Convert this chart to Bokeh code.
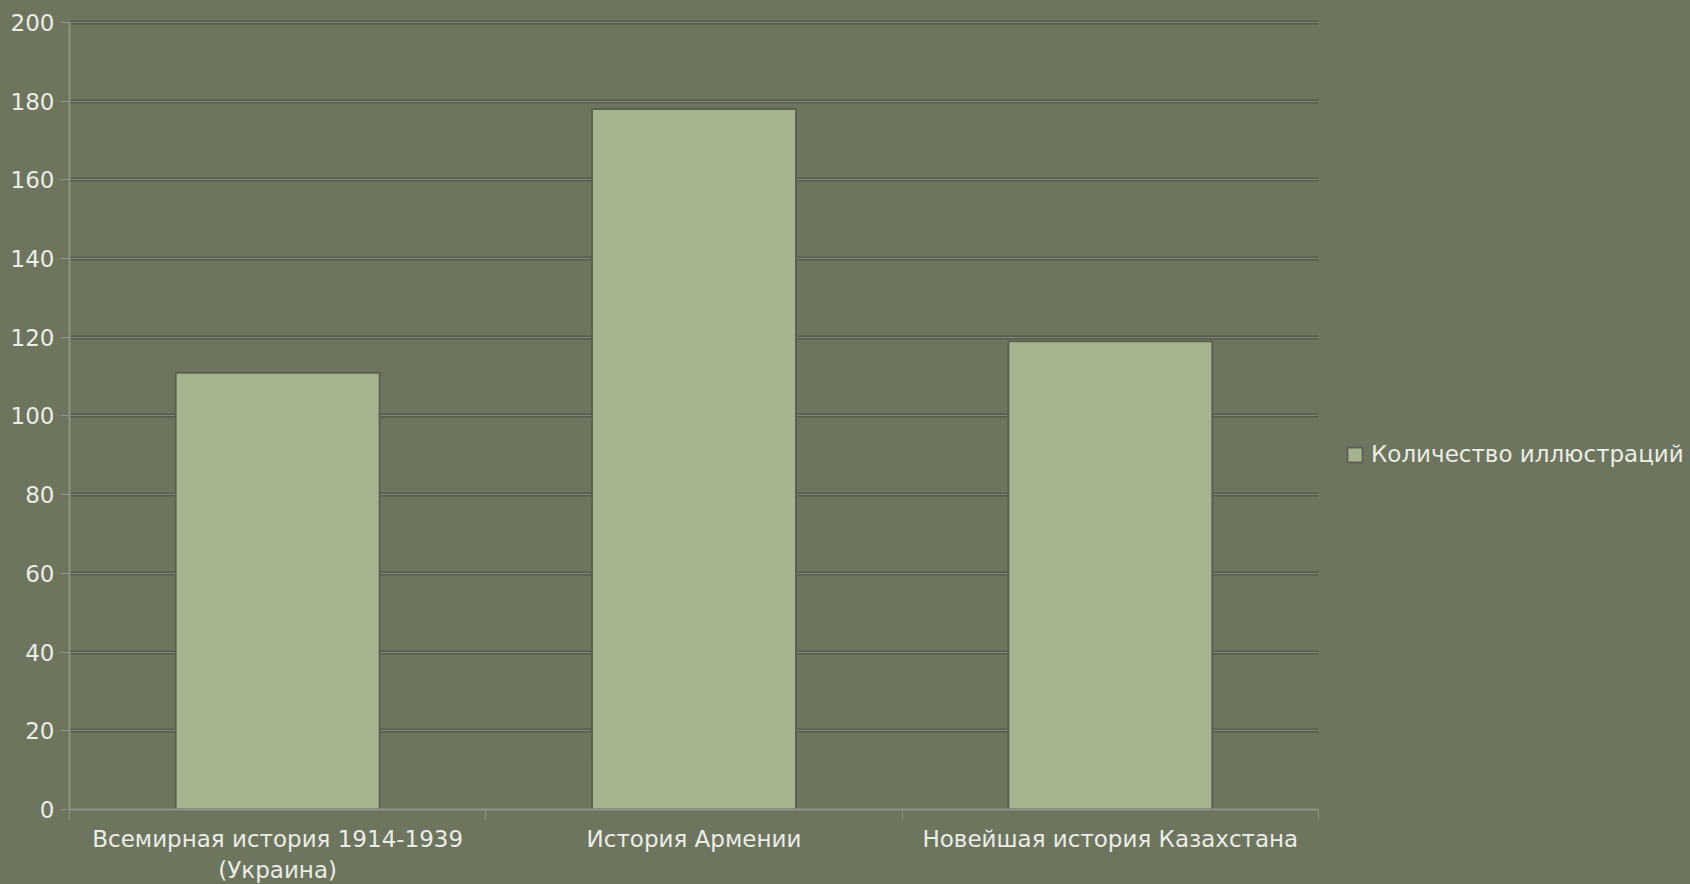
import numpy as np
from bokeh.plotting import figure
from bokeh.models import (Range1d, FixedTicker, Grid, Legend, LegendItem, ColumnDataSource)
from bokeh.embed import file_html
from bokeh.resources import INLINE

categories = ["Всемирная история 1914-1939\n(Украина)", "История Армении", "Новейшая история Казахстана"]
values = [111, 178, 119]
series_name = "Количество иллюстраций"
y_ticks = list(range(0, 201, 20))

BG = "#6e755f"
BAR = "#a6b38f"
TXT = "#eaece6"
FONT = "DejaVu Sans"

centers = (np.arange(len(categories)) + 0.5).tolist()
bounds = list(range(len(categories) + 1))

p = figure(width=1690, height=884, output_backend="svg", toolbar_location=None,
           x_range=Range1d(0, len(categories)), y_range=Range1d(0, 201),
           frame_width=1249, frame_height=791,
           min_border_left=69, min_border_top=18, min_border_bottom=75, min_border_right=372)
p.styles = {"background-color": BG}
p.background_fill_color = BG
p.border_fill_color = BG
p.outline_line_color = None

# y axis
ya = p.yaxis[0]
ya.ticker = FixedTicker(ticks=y_ticks)
ya.bounds = (0, 200)
ya.axis_line_color = "#8f9484"
ya.axis_line_width = 2
ya.major_tick_line_color = "#8f9484"
ya.major_tick_out = 9
ya.major_tick_in = 0
ya.minor_tick_line_color = None
ya.major_label_standoff = 6
ya.major_label_text_font = FONT
ya.major_label_text_font_size = "23px"
ya.major_label_text_color = TXT

# grids: engraved look
p.xgrid.grid_line_color = None
p.xgrid.visible = False
p.ygrid.grid_line_color = "#555c4a"
p.ygrid.grid_line_width = 4
g2 = Grid(dimension=1, axis=ya, grid_line_color="#848a79", grid_line_width=1)
p.add_layout(g2, "center")

src = ColumnDataSource(dict(x=centers, top=values))
r = p.vbar(x="x", top="top", width=0.49, bottom=0, source=src,
           fill_color=BAR, line_color="#5b6150", line_width=2)

# x axis
xa = p.xaxis[0]
xa.ticker = FixedTicker(ticks=centers, minor_ticks=bounds)
xa.major_label_overrides = {c: lab for c, lab in zip(centers, categories)}
xa.axis_line_color = "#8f9484"
xa.axis_line_width = 2
xa.major_tick_line_color = None
xa.minor_tick_line_color = "#8f9484"
xa.minor_tick_out = 10
xa.minor_tick_in = 0
xa.major_label_standoff = 6
xa.major_label_text_font = FONT
xa.major_label_text_font_size = "23px"
xa.major_label_text_color = TXT

legend = Legend(items=[LegendItem(label=series_name, renderers=[r])],
                location=(27, 342), orientation="vertical",
                background_fill_alpha=0, border_line_color=None,
                padding=0, margin=0, glyph_width=19, glyph_height=19,
                label_standoff=7, label_text_font=FONT,
                label_text_font_size="23px", label_text_color=TXT)
p.add_layout(legend, "right")

open("out.html", "w").write(file_html(p, INLINE))
